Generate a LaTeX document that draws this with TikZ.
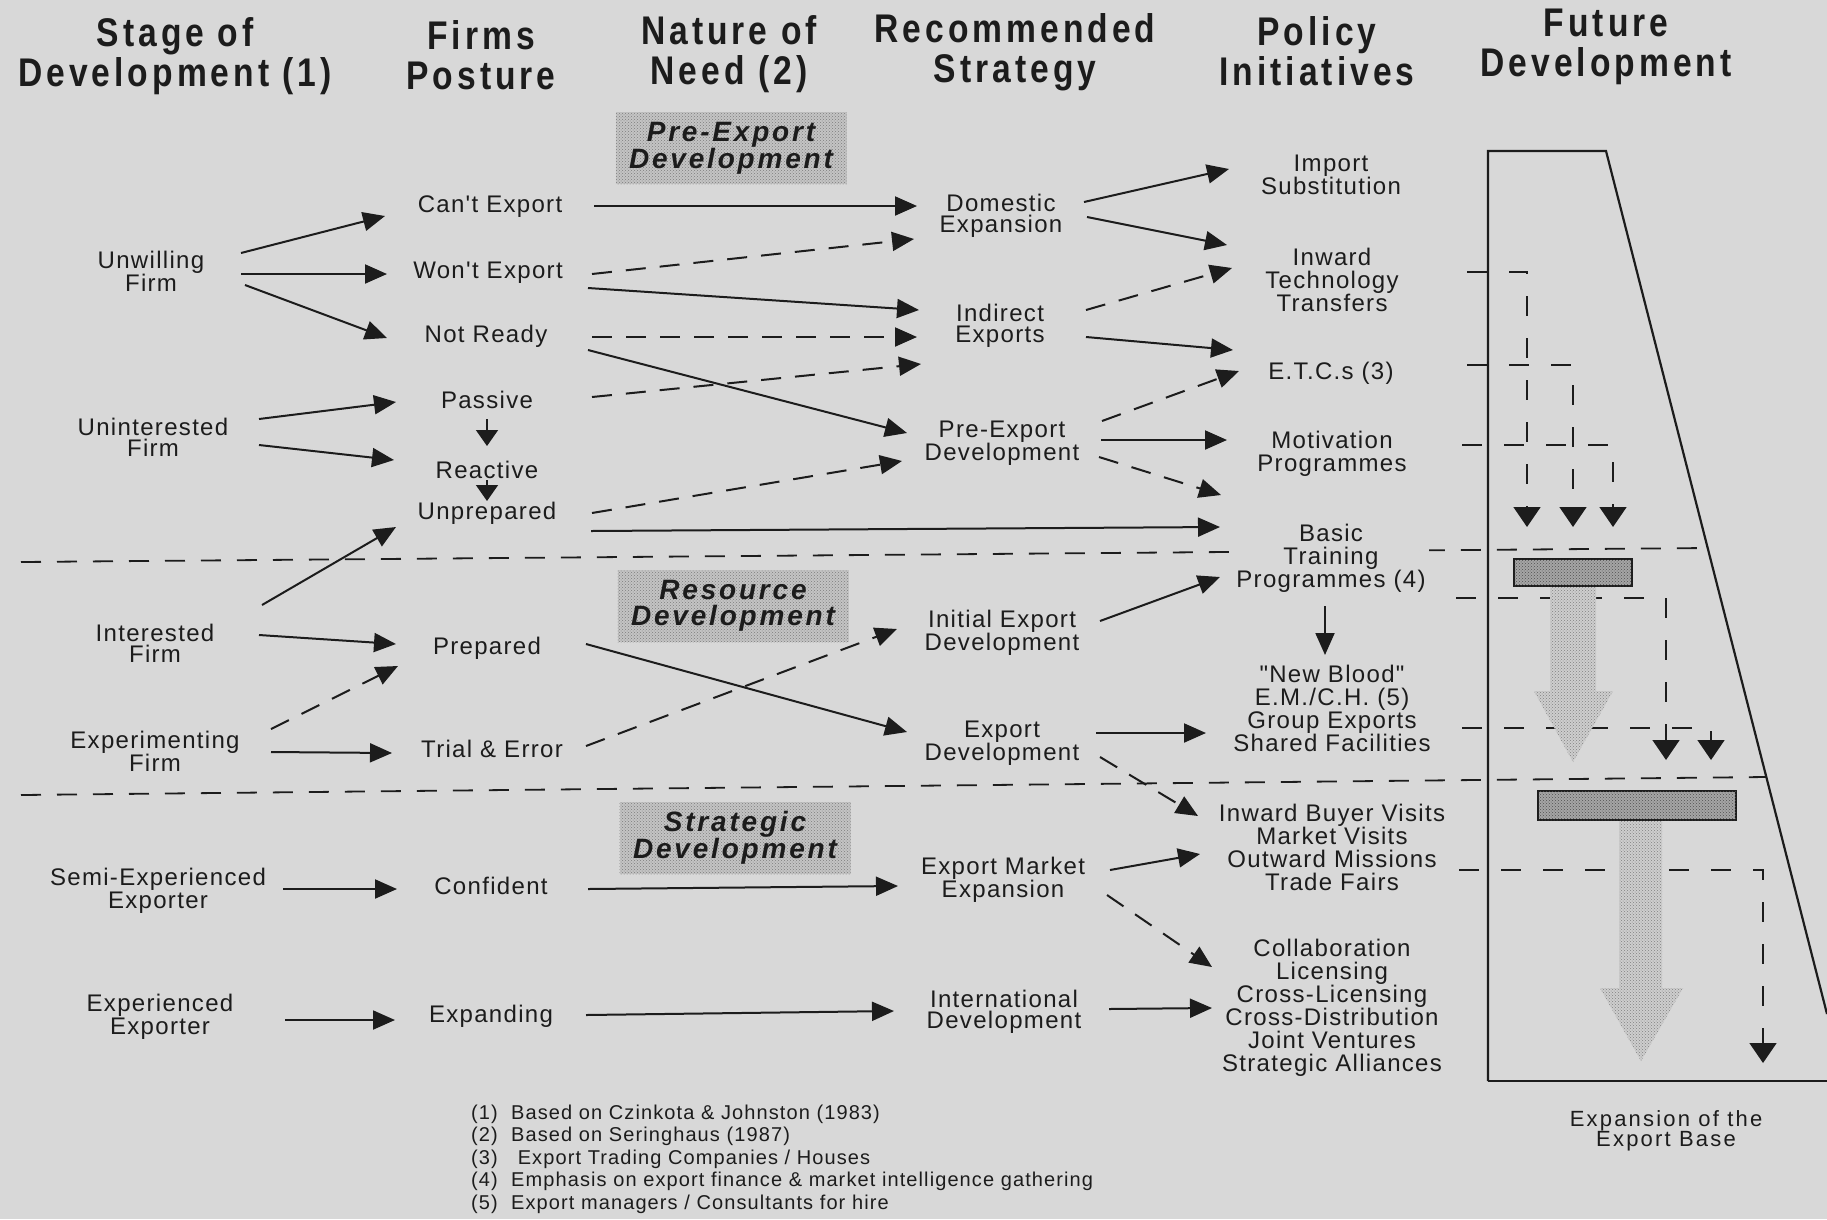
\documentclass[tikz,border=0pt]{standalone}
\usepackage{fontspec}
\setmainfont{Liberation Sans}
\newfontfamily\bodyfont[LetterSpace=5.5]{Liberation Sans}
\newfontfamily\headfont[FakeStretch=0.84,LetterSpace=10]{Liberation Sans}
\newfontfamily\tagfont[LetterSpace=10]{Liberation Sans}
\usetikzlibrary{arrows.meta,patterns}

\definecolor{bg}{RGB}{216,216,216}
\definecolor{ink}{RGB}{28,28,28}
\definecolor{tagfill}{RGB}{196,196,196}
\definecolor{tagdots}{RGB}{125,125,125}
\definecolor{barfill}{RGB}{165,165,165}
\definecolor{bardots}{RGB}{80,80,80}
\definecolor{bigfill}{RGB}{206,206,206}
\definecolor{bigdots}{RGB}{128,128,128}

\tikzset{
  head/.style={font={\headfont\bfseries\fontsize{40}{40}\selectfont}, align=center, text=ink, inner sep=0pt},
  lbl/.style={font={\bodyfont\fontsize{24}{21}\selectfont}, align=center, text=ink, inner sep=0pt},
  pol/.style={font={\bodyfont\fontsize{24}{23}\selectfont}, align=center, text=ink, inner sep=0pt},
  foot/.style={font={\bodyfont\fontsize{20}{22.5}\selectfont}, align=left, text=ink, inner sep=0pt},
  tagbox/.style={font={\tagfont\bfseries\itshape\fontsize{28}{26}\selectfont}, align=center, text=ink,
    fill=tagfill, postaction={pattern=crosshatch dots, pattern color=tagdots},
    minimum width=231pt, minimum height=72pt, inner sep=0pt},
  arr/.style={draw=ink, line width=2pt, -{Triangle[length=22pt,width=19pt]}},
  darr/.style={arr, dash pattern=on 20pt off 14pt},
  sarr/.style={draw=ink, line width=1.6pt, -{Triangle[length=16pt,width=22pt]}},
  sep/.style={draw=ink, line width=1.8pt, dash pattern=on 20pt off 16pt},
  funnel/.style={draw=ink, line width=2.2pt},
  farr/.style={draw=ink, line width=1.6pt, dash pattern=on 20pt off 22pt, -{Triangle[length=20pt,width=27pt]}},
  bigarrow/.style={fill=bigfill, postaction={pattern=crosshatch dots, pattern color=bigdots}},
  bar/.style={draw=ink, line width=1.6pt, fill=barfill, postaction={pattern=crosshatch dots, pattern color=bardots}},
}

\begin{document}
\begin{tikzpicture}[x=1pt,y=-1pt]
\fill[bg] (0,0) rectangle (1827,1219);
\useasboundingbox (0,0) rectangle (1827,1219);

% column headings
\node[head] (h1) at (175,56)  {Stage of\\Development (1)};
\node[head] (h2) at (481,55)  {Firms\\Posture};
\node[head] (h3) at (729,54)  {Nature of\\Need (2)};
\node[head] (h4) at (1015,52) {Recommended\\Strategy};
\node[head] (h5) at (1317,51) {Policy\\Initiatives};
\node[head] (h6) at (1606,47) {Future\\Development};

% band separators
\draw[sep] (21,562) -- (1708,548);
\draw[sep] (21,795) -- (1766,777);

% band labels
\node[tagbox] (tpre) at (731,148) {Pre-Export\\Development};
\node[tagbox] (tres) at (733,606) {Resource\\Development};
\node[tagbox] (tstr) at (735,838) {Strategic\\Development};

% stage of development
\node[lbl] (uw) at (151,271)  {Unwilling\\Firm};
\node[lbl] (ui) at (153,437)  {Uninterested\\Firm};
\node[lbl] (it) at (155,643)  {Interested\\Firm};
\node[lbl] (ex) at (155,751)  {Experimenting\\Firm};
\node[lbl] (se) at (158,891)  {Semi-Experienced\\Exporter};
\node[lbl] (ee) at (160,1017) {Experienced\\Exporter};

% firms posture
\node[lbl] (cant)  at (490,207)  {Can't Export};
\node[lbl] (wont)  at (488,273)  {Won't Export};
\node[lbl] (notr)  at (486,336)  {Not Ready};
\node[lbl] (pass)  at (487,400)  {Passive};
\node[lbl] (reac)  at (487,470)  {Reactive};
\node[lbl] (unpr)  at (487,513)  {Unprepared};
\node[lbl] (prep)  at (487,648)  {Prepared};
\node[lbl] (trial) at (492,749)  {Trial \& Error};
\node[lbl] (conf)  at (491,886)  {Confident};
\node[lbl] (expd)  at (491,1016) {Expanding};

% recommended strategy
\node[lbl] (dom)  at (1001,216)  {Domestic\\Expansion};
\node[lbl] (ind)  at (1000,326)  {Indirect\\Exports};
\node[lbl] (pre)  at (1002,443)  {Pre-Export\\Development};
\node[lbl] (ini)  at (1002,633)  {Initial Export\\Development};
\node[lbl] (exd)  at (1002,743)  {Export\\Development};
\node[lbl] (emx)  at (1003,880)  {Export Market\\Expansion};
\node[lbl] (intl) at (1004,1012) {International\\Development};

% policy initiatives
\node[pol] (imp) at (1331,175) {Import\\Substitution};
\node[pol] (inw) at (1332,280) {Inward\\Technology\\Transfers};
\node[pol] (etc) at (1331,373) {E.T.C.s (3)};
\node[pol] (mot) at (1332,454) {Motivation\\Programmes};
\node[pol, fill=bg, inner sep=3pt] (bas) at (1331,558) {Basic\\Training\\Programmes (4)};
\node[pol] (nb)  at (1332,708) {"New Blood"\\E.M./C.H. (5)\\Group Exports\\Shared Facilities};
\node[pol] (ibv) at (1332,847) {Inward Buyer Visits\\Market Visits\\Outward Missions\\Trade Fairs};
\node[pol] (col) at (1332,1008) {Collaboration\\Licensing\\Cross-Licensing\\Cross-Distribution\\Joint Ventures\\Strategic Alliances};

% stage -> posture
\draw[arr]  ([shift={(90,-18)}]uw.center)  -- ([shift={(-105,9)}]cant.center);
\draw[arr]  ([shift={(90,3)}]uw.center)    -- ([shift={(-101,1)}]wont.center);
\draw[arr]  ([shift={(94,14)}]uw.center)   -- ([shift={(-99,2)}]notr.center);
\draw[arr]  ([shift={(106,-18)}]ui.center) -- ([shift={(-91,2)}]pass.center);
\draw[arr]  ([shift={(106,8)}]ui.center)   -- ([shift={(-93,-10)}]reac.center);
\draw[arr]  ([shift={(107,-38)}]it.center) -- ([shift={(-91,14)}]unpr.center);
\draw[arr]  ([shift={(104,-8)}]it.center)  -- ([shift={(-91,-4)}]prep.center);
\draw[darr] ([shift={(116,-22)}]ex.center) -- ([shift={(-89,18)}]prep.center);
\draw[arr]  ([shift={(116,1)}]ex.center)   -- ([shift={(-100,4)}]trial.center);
\draw[arr]  ([shift={(125,-2)}]se.center)  -- ([shift={(-94,3)}]conf.center);
\draw[arr]  ([shift={(125,3)}]ee.center)   -- ([shift={(-96,4)}]expd.center);

% posture sequence
\draw[sarr] ([shift={(0,19)}]pass.center) -- ([shift={(0,-24)}]reac.center);
\draw[sarr] ([shift={(0,10)}]reac.center) -- ([shift={(0,-12)}]unpr.center);

% posture -> strategy
\draw[arr]  ([shift={(104,-1)}]cant.center) -- ([shift={(-84,-10)}]dom.center);
\draw[darr] ([shift={(104,1)}]wont.center)  -- ([shift={(-87,23)}]dom.center);
\draw[arr]  ([shift={(100,15)}]wont.center) -- ([shift={(-81,-16)}]ind.center);
\draw[darr] ([shift={(106,1)}]notr.center)  -- ([shift={(-83,11)}]ind.center);
\draw[arr]  ([shift={(102,14)}]notr.center) -- ([shift={(-95,-10)}]pre.center);
\draw[darr] ([shift={(105,-3)}]pass.center) -- ([shift={(-79,38)}]ind.center);
\draw[darr] ([shift={(105,0)}]unpr.center)  -- ([shift={(-100,18)}]pre.center);
\draw[arr]  ([shift={(104,18)}]unpr.center) -- ([shift={(-111,-31)}]bas.center);
\draw[arr]  ([shift={(99,-4)}]prep.center)  -- ([shift={(-95,-11)}]exd.center);
\draw[darr] ([shift={(94,-3)}]trial.center) -- ([shift={(-105,-4)}]ini.center);
\draw[arr]  ([shift={(97,3)}]conf.center)   -- ([shift={(-105,6)}]emx.center);
\draw[arr]  ([shift={(95,-1)}]expd.center)  -- ([shift={(-110,-1)}]intl.center);

% strategy -> policy
\draw[arr]  ([shift={(83,-14)}]dom.center)  -- ([shift={(-102,-6)}]imp.center);
\draw[arr]  ([shift={(86,1)}]dom.center)    -- ([shift={(-105,-35)}]inw.center);
\draw[darr] ([shift={(86,-16)}]ind.center)  -- ([shift={(-100,-12)}]inw.center);
\draw[arr]  ([shift={(86,11)}]ind.center)   -- ([shift={(-98,-23)}]etc.center);
\draw[darr] ([shift={(100,-22)}]pre.center) -- ([shift={(-92,-2)}]etc.center);
\draw[arr]  ([shift={(99,-3)}]pre.center)   -- ([shift={(-105,-14)}]mot.center);
\draw[darr] ([shift={(97,14)}]pre.center)   -- ([shift={(-110,-63)}]bas.center);
\draw[arr]  ([shift={(98,-12)}]ini.center)  -- ([shift={(-111,19)}]bas.center);
\draw[arr]  ([shift={(94,-10)}]exd.center)  -- ([shift={(-126,25)}]nb.center);
\draw[darr] ([shift={(98,14)}]exd.center)   -- ([shift={(-134,-31)}]ibv.center);
\draw[arr]  ([shift={(107,-10)}]emx.center) -- ([shift={(-132,7)}]ibv.center);
\draw[darr] ([shift={(104,15)}]emx.center)  -- ([shift={(-120,-41)}]col.center);
\draw[arr]  ([shift={(105,-3)}]intl.center) -- ([shift={(-120,0)}]col.center);
\draw[arr]  ([shift={(-6,48)}]bas.center)   -- ([shift={(-7,-53)}]nb.center);

% future development funnel
\draw[funnel] (1488,1081) -- (1488,151) -- (1606,151) -- (1827,1014);
\draw[funnel] (1488,1081) -- (1827,1081);

\coordinate (fa1) at (1467,272); \coordinate (fb1) at (1527,527);
\coordinate (fa2) at (1467,365); \coordinate (fb2) at (1573,527);
\coordinate (fa3) at (1462,445); \coordinate (fb3) at (1613,527);
\coordinate (fa4) at (1456,598); \coordinate (fb4) at (1666,760);
\coordinate (fa5) at (1462,728); \coordinate (fb5) at (1711,760);
\coordinate (fa6) at (1459,870); \coordinate (fb6) at (1763,1063);
\draw[farr] (fa1) -| (fb1);
\draw[farr] (fa2) -| (fb2);
\draw[farr] (fa3) -| (fb3);
\draw[farr] (fa4) -| (fb4);
\draw[farr] (fa5) -| (fb5);
\draw[farr] (fa6) -| (fb6);

% broad arrows and bars
\path[bigarrow] (1550,586) -- (1596,586) -- (1596,691) -- (1613,691) -- (1573,762)
  -- (1534,691) -- (1550,691) -- cycle;
\path[bigarrow] (1619,820) -- (1662,820) -- (1662,988) -- (1683,988) -- (1641,1061)
  -- (1600,988) -- (1619,988) -- cycle;
\draw[bar] (1514,559) rectangle (1632,586);
\draw[bar] (1538,791) rectangle (1736,820);

\node[lbl, font={\tagfont\fontsize{22}{20}\selectfont}] (xb) at (1666,1131) {Expansion of the\\Export Base};

% notes
\node[foot, anchor=west] (fn) at (471,1159) {(1)\ \ Based on Czinkota \& Johnston (1983)\\(2)\ \ Based on Seringhaus (1987)\\(3)\ \ \ Export Trading Companies / Houses\\(4)\ \ Emphasis on export finance \& market intelligence gathering\\(5)\ \ Export managers / Consultants for hire};
\end{tikzpicture}
\end{document}
